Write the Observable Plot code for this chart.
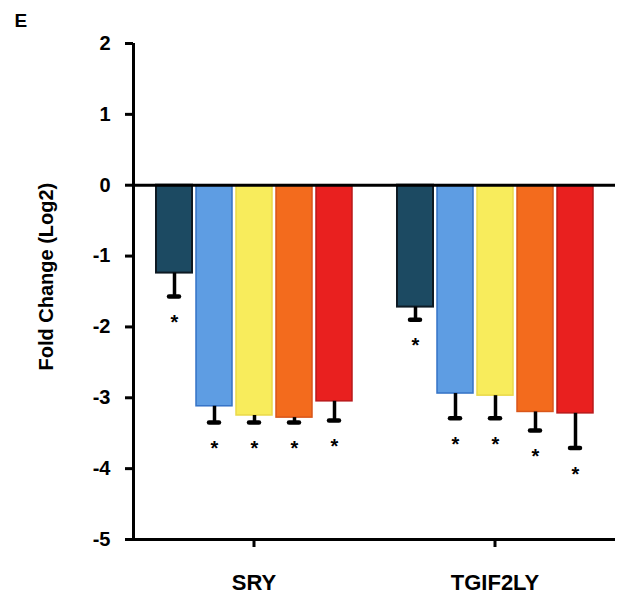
<!DOCTYPE html>
<html><head><meta charset="utf-8">
<script src="https://cdn.jsdelivr.net/npm/d3@7"></script>
<script src="https://cdn.jsdelivr.net/npm/@observablehq/plot@0.6"></script>
<style>body{margin:0;background:#fff;font-family:"Liberation Sans",Arial,sans-serif}</style>
</head><body><div id="chart"></div>
<script>
const panelLabel = "E";
const yLabel = "Fold Change (Log2)";
const genes = ["SRY", "TGIF2LY"];
const conditions = ["C1", "C2", "C3", "C4", "C5"];
const barColors = ["#1c4a62", "#5e9de3", "#f8ec5c", "#f36b1d", "#e9201f"];
const barStrokes = ["#0d1a24", "#3573c6", "#ead94a", "#d9561a", "#b9181a"];
const sryValues = [-1.24, -3.12, -3.25, -3.28, -3.05];
const sryLower = [-1.57, -3.35, -3.35, -3.35, -3.32];
const tgifValues = [-1.72, -2.94, -2.97, -3.2, -3.22];
const tgifLower = [-1.9, -3.29, -3.29, -3.46, -3.71];
const significant = [[true, true, true, true, true], [true, true, true, true, true]];
const yTicks = [2, 1, 0, -1, -2, -3, -4, -5];

const values = [sryValues, tgifValues];
const lowers = [sryLower, tgifLower];
const data = [];
genes.forEach((g, gi) => conditions.forEach((c, ci) => data.push({
  gene: g, cond: c, value: values[gi][ci], lower: lowers[gi][ci], sig: significant[gi][ci]
})));

const font = "Liberation Sans, Arial, sans-serif";
const plot = Plot.plot({
  width: 625, height: 601,
  marginLeft: 133, marginRight: 10, marginTop: 43, marginBottom: 62,
  style: {fontFamily: font, fontWeight: "bold", color: "#000", background: "#fff", overflow: "visible"},
  fx: {domain: genes, paddingInner: 0, paddingOuter: 0, label: null},
  x: {domain: conditions, paddingInner: 0.1, paddingOuter: 0.5625, axis: null},
  y: {domain: [-5, 2], label: null},
  marks: [
    ...conditions.map((c, i) => Plot.barY(data.filter(d => d.cond === c), {
      fx: "gene", x: "cond", y: "value", fill: barColors[i], stroke: barStrokes[i], strokeWidth: i === 0 ? 2 : 1.5
    })),
    Plot.ruleX(data, {fx: "gene", x: "cond", y1: "value", y2: "lower", stroke: "#000", strokeWidth: 3.5}),
    Plot.tickY(data, {fx: "gene", x: "cond", y: "lower", stroke: "#000", strokeWidth: 4.5, strokeLinecap: "round", insetLeft: 13, insetRight: 13}),
    Plot.text(data.filter(d => d.sig), {fx: "gene", x: "cond", y: "lower", text: () => "*", dy: 26, fontSize: 20, fontWeight: "bold"}),
    Plot.ruleY([0], {stroke: "#000", strokeWidth: 3}),
    Plot.ruleY([-5], {stroke: "#000", strokeWidth: 3}),
    Plot.ruleX([genes[0]], {fx: d => d, x: null, y1: -5, y2: 2, stroke: "#000", strokeWidth: 3, dx: -120.5}),
    Plot.axisY({ticks: yTicks, tickFormat: d => String(d), tickSize: 8, tickPadding: 15, fontSize: 20, fontWeight: "bold", strokeWidth: 3, label: null}),
    Plot.axisFx({anchor: "bottom", tickSize: 8, tickPadding: 27, fontSize: 22, fontWeight: "bold", strokeWidth: 3, label: null}),
    Plot.text([yLabel], {fx: [genes[0]], text: d => d, frameAnchor: "left", rotate: -90, dx: -87, dy: 79, fontSize: 20, fontWeight: "bold"}),
    Plot.text([panelLabel], {fx: [genes[0]], text: d => d, frameAnchor: "top-left", textAnchor: "start", dx: -119, dy: -30, fontSize: 19, fontWeight: "bold"})
  ]
});
document.getElementById("chart").appendChild(plot);
</script>
</body></html>
